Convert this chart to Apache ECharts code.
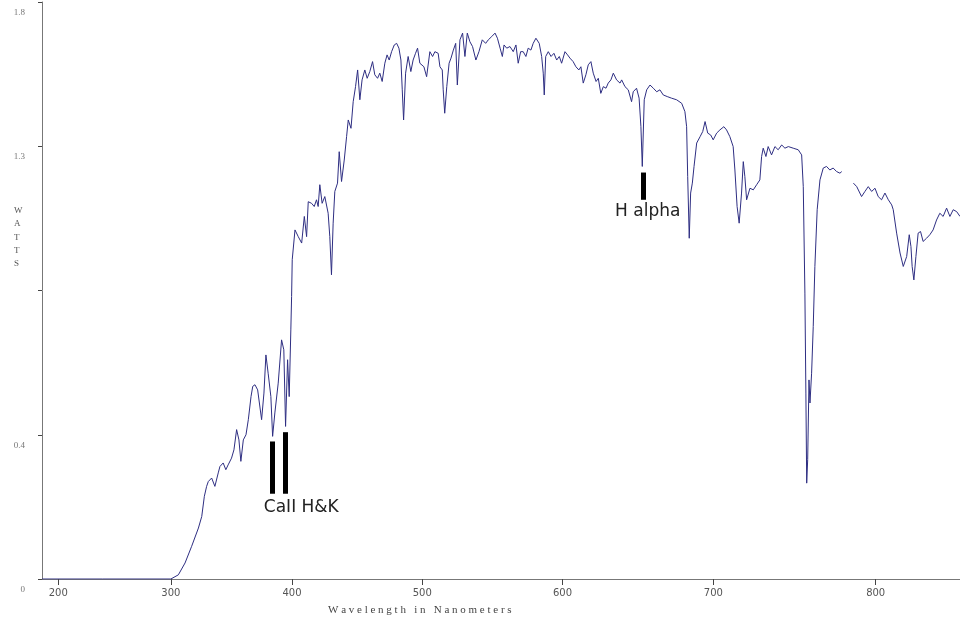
<!DOCTYPE html>
<html>
<head>
<meta charset="utf-8">
<script src="https://cdn.jsdelivr.net/npm/echarts@6/dist/echarts.min.js"></script>
<style>html,body{margin:0;padding:0;background:#fff}#c{width:960px;height:620px}</style>
</head>
<body>
<div id="c"></div>
<script>
// ---- data (wavelength in nm, power in watts) ----
const wavelengths = [185,240,300,306.4,312.1,317.7,323.4,326.2,328.4,330.3,331.7,334.5,337.2,340.0,341.4,344.1,346.3,348.2,351.0,353.0,355.2,357.1,358.7,360.7,362.9,364.8,367.0,368.4,370.2,372.4,375.6,377.5,379.1,380.9,383.1,384.5,386.3,389.0,391.7,393.5,394.9,396.5,397.8,399.1,399.7,400.2,402.4,405.0,407.7,409.8,411.6,412.9,415.5,417.6,419.4,420.7,422.0,423.8,425.9,428.5,429.8,431.1,432.4,433.7,435.8,437.1,438.9,441.0,442.8,444.1,446.2,447.9,449.7,451.3,453.0,454.7,456.8,458.6,460.6,462.7,464.4,466.5,468.2,470.0,472.0,473.7,475.3,477.1,479.1,480.9,482.6,484.1,485.1,486.1,487.6,489.5,491.5,493.2,495.0,496.5,498.2,501.2,503.2,505.6,507.6,509.3,511.7,513.0,514.7,515.4,516.5,518.0,519.7,521.1,522.8,524.5,525.7,527.6,529.5,531.2,532.9,534.8,536.7,539.1,541.3,543.7,546.1,548.0,550.4,552.8,554.5,556.4,558.0,559.2,561.1,563.4,565.7,567.6,569.2,570.9,572.7,574.6,576.2,578.1,579.7,581.6,583.9,585.6,586.7,587.4,588.4,590.2,592.1,594.1,596.0,597.8,599.4,601.7,603.5,605.1,607.3,609.2,611.2,612.6,614.2,616.0,617.6,619.4,621.0,622.9,624.4,626.1,627.8,629.6,631.1,632.9,634.5,636.7,639.0,640.1,642.3,644.5,646.7,647.8,650.0,651.7,652.9,653.8,655.1,656.7,658.9,661.1,663.3,665.4,667.6,670.2,673.0,676.3,679.6,681.7,682.8,683.5,684.5,685.4,686.5,687.6,689.3,691.5,693.2,694.7,696.4,698.3,699.9,702.1,704.2,706.7,708.4,710.5,712.6,713.7,715.1,716.4,717.9,719.0,720.0,721.1,723.2,725.3,727.4,729.4,730.5,731.5,733.2,734.6,736.7,738.8,740.8,743.0,745.0,747.1,750.1,753.2,755.3,756.3,757.3,757.9,758.4,759.0,759.8,760.4,761.4,762.4,763.4,764.8,766.5,768.5,770.5,772.5,774.5,776.6,778.6,779.7,783,786.7,788.7,791.6,793.6,795.6,797.6,799.6,801.5,803.5,805.5,807.5,809.5,810.4,812.4,814.4,816.3,818.3,819.8,820.8,821.5,822.5,823.7,825.0,826.4,827.9,829.9,831.8,833.7,835.7,837.6,839.5,841.5,843.4,845.3,847.3,849.2];
const watts = [0,0,0,0.013,0.05,0.102,0.159,0.195,0.258,0.289,0.304,0.315,0.289,0.331,0.351,0.362,0.341,0.356,0.377,0.403,0.466,0.434,0.367,0.434,0.45,0.497,0.569,0.601,0.606,0.59,0.497,0.58,0.699,0.642,0.569,0.445,0.518,0.611,0.746,0.715,0.476,0.684,0.569,0.777,0.881,0.996,1.089,1.068,1.048,1.131,1.068,1.177,1.172,1.162,1.183,1.162,1.23,1.172,1.193,1.141,1.068,0.949,1.11,1.209,1.235,1.333,1.24,1.307,1.38,1.432,1.406,1.489,1.536,1.588,1.495,1.557,1.588,1.562,1.583,1.614,1.573,1.562,1.578,1.552,1.609,1.635,1.619,1.645,1.666,1.671,1.656,1.619,1.526,1.432,1.578,1.63,1.583,1.619,1.64,1.656,1.609,1.598,1.567,1.645,1.63,1.645,1.64,1.598,1.588,1.526,1.453,1.536,1.609,1.625,1.65,1.671,1.541,1.682,1.703,1.63,1.703,1.676,1.661,1.619,1.645,1.682,1.671,1.682,1.692,1.703,1.687,1.656,1.63,1.666,1.656,1.661,1.645,1.666,1.609,1.645,1.645,1.63,1.656,1.65,1.671,1.687,1.671,1.63,1.578,1.51,1.63,1.645,1.63,1.64,1.619,1.63,1.609,1.645,1.635,1.625,1.614,1.598,1.588,1.598,1.547,1.573,1.604,1.614,1.578,1.552,1.562,1.515,1.536,1.531,1.547,1.557,1.578,1.557,1.547,1.557,1.536,1.526,1.489,1.52,1.531,1.5,1.411,1.287,1.495,1.526,1.541,1.531,1.52,1.526,1.51,1.505,1.5,1.495,1.484,1.458,1.411,1.255,1.063,1.204,1.235,1.287,1.36,1.38,1.396,1.427,1.391,1.385,1.37,1.391,1.401,1.411,1.401,1.38,1.349,1.276,1.162,1.11,1.204,1.302,1.255,1.183,1.219,1.214,1.23,1.245,1.318,1.344,1.318,1.349,1.323,1.349,1.339,1.354,1.344,1.349,1.344,1.339,1.323,1.224,0.892,0.58,0.299,0.372,0.621,0.549,0.642,0.788,0.975,1.152,1.245,1.282,1.287,1.276,1.282,1.271,1.266,1.271,null,1.235,1.224,1.193,1.209,1.224,1.209,1.219,1.193,1.183,1.204,1.183,1.167,1.152,1.079,1.017,0.975,1.006,1.074,1.037,0.975,0.933,1.006,1.079,1.084,1.053,1.063,1.074,1.089,1.12,1.141,1.131,1.157,1.131,1.152,1.146,1.131];

const xTickLabels = [200, 300, 400, 500, 600, 700, 800];
const yTickLabels = ['0', '0.4', '', '1.3', '1.8'];

// annotation marks (data coordinates)
const barWavelengths = [384.5, 394.8, 654.4];
const barTops = [0.429, 0.458, 1.268];
const barBottoms = [0.266, 0.266, 1.183];
const noteTexts = ['CaII H&K', 'H alpha'];
const noteWavelengths = [407.4, 657.4];
const noteWatts = [0.224, 1.146];

// ---- the wavelength axis of the original is stretched toward the red end ----
const WL_SCALE = 1366;
const u = w => Math.exp(w / WL_SCALE);
const uInv = v => WL_SCALE * Math.log(v);

const seriesData = wavelengths.map((w, i) => [u(w), watts[i] == null ? '-' : watts[i]]);

const chart = echarts.init(document.getElementById('c'), null, {renderer: 'canvas'});
chart.setOption({
  animation: false,
  backgroundColor: '#ffffff',
  grid: {left: 42, right: 0, top: 2, bottom: 41, containLabel: false},
  title: [
    {text: 'W\nA\nT\nT\nS', left: 9, top: 199,
     textStyle: {fontFamily: 'Liberation Serif', fontSize: 9, fontWeight: 'normal', color: '#555', lineHeight: 13.3}},
    {text: 'W a v e l e n g t h   i n   N a n o m e t e r s', left: 323, top: 600,
     textStyle: {fontFamily: 'Liberation Serif', fontSize: 11, fontWeight: 'normal', color: '#444'}}
  ],
  xAxis: {
    type: 'value',
    min: u(184.9),
    max: u(849.2),
    axisLine: {show: true, lineStyle: {color: '#777', width: 1}},
    axisTick: {show: true, length: 6, customValues: xTickLabels.map(u), lineStyle: {color: '#444'}},
    axisLabel: {
      customValues: xTickLabels.map(u),
      formatter: v => String(Math.round(uInv(v))),
      color: '#555', fontSize: 10, fontFamily: 'DejaVu Sans', margin: 9
    },
    splitLine: {show: false}
  },
  yAxis: {
    type: 'value',
    min: 0, max: 1.8, interval: 0.45,
    axisLine: {show: true, lineStyle: {color: '#777', width: 1}},
    axisTick: {show: true, length: 4, lineStyle: {color: '#444'}},
    axisLabel: {
      formatter: (v, i) => yTickLabels[i] !== undefined ? yTickLabels[i] : '',
      color: '#777', fontSize: 9, fontFamily: 'Liberation Serif', margin: 17,
      verticalAlign: 'top', padding: [6, 0, 0, 0]
    },
    splitLine: {show: false}
  },
  series: [{
    type: 'line',
    data: seriesData,
    showSymbol: false,
    symbol: 'none',
    connectNulls: false,
    lineStyle: {color: '#2e2e82', width: 1},
    itemStyle: {color: '#2e2e82'},
    markLine: {
      silent: true,
      symbol: ['none', 'none'],
      animation: false,
      lineStyle: {color: '#000', width: 5, type: 'solid'},
      label: {show: false},
      data: barWavelengths.map((w, i) => [{coord: [u(w), barTops[i]]}, {coord: [u(w), barBottoms[i]]}])
    },
    markPoint: {
      silent: true,
      symbol: 'rect',
      symbolSize: 1,
      itemStyle: {color: 'rgba(0,0,0,0)'},
      label: {show: true, position: 'inside', formatter: p => p.name, color: '#222',
              fontSize: 17, fontFamily: 'DejaVu Sans'},
      data: noteTexts.map((t, i) => ({name: t, coord: [u(noteWavelengths[i]), noteWatts[i]]}))
    }
  }]
});
</script>
</body>
</html>
